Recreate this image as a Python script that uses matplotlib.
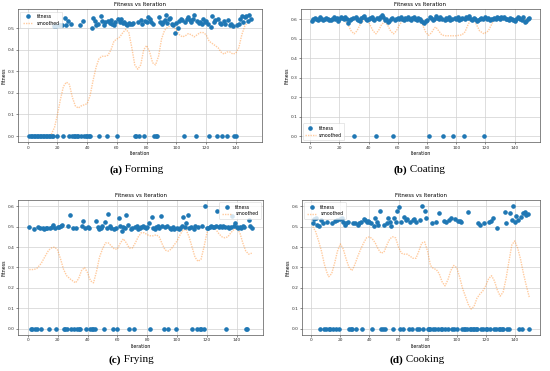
import matplotlib
matplotlib.use("Agg")
import matplotlib.pyplot as plt
import numpy as np

iterations = list(range(1, 151))

fit_a = [0, 0, 0, 0, 0, 0, 0, 0, 0, 0,
         0, 0, 0, 0, 0, 0, 0, .512, .512, 0,
         .515, .515, .515, 0, .546, .515, .534, 0, .52, 0,
         0, 0, 0, 0, .515, 0, .534, 0, 0, 0,
         0, 0, .503, .549, .534, .515, .52, 0, .558, .534,
         .515, .53, 0, .534, .523, .538, .52, .515, .53, 0,
         .543, .53, .545, .525, .53, .52, .515, .525, .52, .518,
         .523, 0, 0, .53, 0, .54, .52, 0, .535, .53,
         .55, .545, .53, .52, 0, 0, 0, .55, .528, .52,
         .53, .54, .56, .525, .545, .548, .52, .515, .48, .525,
         .50, .535, .545, .54, 0, .53, .545, .55, .54, .53,
         .545, .56, 0, .535, .525, .53, .52, .545, .53, .535,
         .52, 0, .505, .555, .53, .54, 0, .545, .525, .52,
         0, .535, .52, 0, .54, .515, .52, .51, 0, 0,
         .515, .52, .545, .555, .53, .55, .555, .535, .56, .545]

fit_b = [.59, .60, .605, .60, .598, .60, .61, .60, .595, .60,
         .605, .60, .598, .595, .60, .61, .60, .605, .59, .60,
         .61, .605, .60, .61, .60, .58, .595, .60, .605, 0,
         .61, .60, .595, .59, .605, .61, .615, .60, .595, .60,
         .605, .61, .60, .595, 0, .605, .60, .61, .62, .61,
         .595, .60, .585, .59, .60, .605, 0, .595, .60, .605,
         .60, .61, .60, .595, .605, .60, .61, .60, .595, .605,
         .61, .60, .595, .605, .60, .59, .585, .58, .59, .595,
         0, .61, .605, .595, .60, .615, .605, .60, .61, .60,
         0, .595, .605, .60, .61, .595, .60, 0, .605, .60,
         .61, .595, .60, .605, 0, .60, .61, .605, .615, .60,
         .595, .605, .60, .59, .595, .60, .605, .60, 0, .61,
         .60, .605, .595, .60, .60, .605, .60, .61, .605, .60,
         .61, .605, .61, .60, .60, .595, .605, .60, .595, .59,
         .60, .61, .605, .60, .595, .61, .585, .59, .60, .605]

fit_c = [.50, 0, 0, .49, 0, 0, .50, .495, 0, .495,
         .49, .495, .495, 0, .495, .50, .51, .495, 0, .50,
         .50, .505, .51, 0, 0, 0, .505, .555, 0, .495,
         0, .495, 0, 0, 0, .505, .525, .495, 0, .50,
         .495, 0, 0, 0, 0, .525, .50, .49, .495, .505,
         0, .52, .495, .56, .505, .495, 0, .49, .495, 0,
         .54, .505, .48, .50, .495, .555, .51, 0, .49, .495,
         0, .50, .505, .49, .495, .50, .505, .50, .495, .50,
         .515, 0, .548, .495, .49, .50, .505, .495, .553, .505,
         0, .50, .505, 0, .495, .49, .50, .49, 0, .495,
         .49, .495, .505, .548, .50, .515, .555, .495, .50, 0,
         .49, .505, 0, .50, 0, 0, .505, 0, .60, .495,
         .495, .50, .505, .50, .50, .505, .575, .50, .505, .50,
         .505, .50, 0, .50, .495, .50, .553, .505, .515, .50,
         .495, .50, .495, .505, .50, 0, 0, .53, .505, .495]

fit_d = [.515, .535, .54, .51, .505, 0, .53, .515, 0, 0,
         .52, 0, 0, .515, 0, .525, 0, .53, 0, .535,
         .54, .52, .51, .515, .52, 0, 0, 0, .515, .515,
         0, .51, .515, .52, 0, .535, .53, .52, .525, .52,
         .515, 0, .505, .54, .52, .51, .575, 0, 0, .51,
         0, .515, .54, .52, .505, 0, .54, .52, .575, .595,
         0, .52, 0, .545, .53, .535, 0, .52, 0, .53,
         .535, .52, 0, 0, .53, .60, 0, .575, .54, 0,
         0, 0, .515, 0, 0, .52, 0, .565, 0, 0,
         .525, 0, .52, 0, .53, .54, 0, 0, .535, 0,
         .525, .525, .52, 0, 0, 0, 0, .57, 0, 0,
         0, 0, 0, 0, .515, .51, 0, 0, .515, 0,
         0, .52, 0, .525, .54, 0, 0, .495, 0, 0,
         0, 0, .57, .515, 0, 0, .565, .53, .60, .52,
         .55, .53, 0, .545, 0, .565, .57, .555, .56, 0]

sm_a_x = [1, 5, 10, 14, 16, 18, 20, 22, 24, 26, 28, 30, 32, 34, 36, 38, 40, 42, 44, 46,
          48, 50, 52, 54, 56, 58, 60, 62, 64, 66, 68, 70, 72, 74, 76, 78, 80, 82, 84, 86,
          88, 90, 92, 94, 96, 98, 100, 102, 104, 106, 108, 110, 112, 114, 116, 118, 120,
          122, 124, 126, 128, 130, 132, 134, 136, 138, 140, 142, 144, 146, 148, 150]
sm_a_y = [0, 0, 0, 0, 0.01, 0.04, 0.10, 0.17, 0.23, 0.25, 0.24, 0.18, 0.14, 0.13, 0.14,
          0.145, 0.15, 0.19, 0.26, 0.32, 0.36, 0.37, 0.37, 0.375, 0.40, 0.44, 0.45, 0.46,
          0.48, 0.495, 0.48, 0.41, 0.33, 0.31, 0.33, 0.40, 0.42, 0.39, 0.34, 0.33, 0.37,
          0.45, 0.49, 0.505, 0.51, 0.51, 0.49, 0.47, 0.46, 0.465, 0.475, 0.47, 0.46, 0.47,
          0.48, 0.48, 0.47, 0.44, 0.43, 0.42, 0.41, 0.39, 0.38, 0.39, 0.39, 0.38, 0.385,
          0.41, 0.47, 0.51, 0.53, 0.54]

sm_b_x = [1, 23, 26, 28, 30, 32, 34, 37, 39, 41, 43, 45, 47, 49, 51, 53, 55, 57, 59, 61,
          64, 75, 77, 79, 81, 83, 85, 86, 88, 90, 92, 95, 100, 104, 106, 108, 110, 112,
          114, 116, 119, 122, 124, 126, 150]
sm_b_y = [0.6, 0.6, 0.57, 0.54, 0.525, 0.54, 0.57, 0.6, 0.6, 0.57, 0.54, 0.525, 0.545,
          0.575, 0.585, 0.57, 0.54, 0.525, 0.54, 0.57, 0.6, 0.6, 0.57, 0.535, 0.517, 0.53,
          0.555, 0.56, 0.54, 0.52, 0.515, 0.515, 0.515, 0.52, 0.535, 0.57, 0.6, 0.6, 0.57,
          0.54, 0.525, 0.54, 0.57, 0.6, 0.6]

sm_c_x = [1, 4, 6, 9, 12, 14, 16, 18, 20, 22, 24, 26, 29, 32, 34, 36, 38, 40, 42, 44, 46,
          48, 50, 52, 54, 56, 58, 60, 62, 64, 66, 68, 70, 72, 74, 76, 78, 80, 82, 84, 86,
          88, 90, 92, 94, 96, 98, 100, 102, 104, 106, 108, 110, 112, 114, 116, 118, 120,
          122, 124, 126, 128, 130, 132, 134, 136, 138, 140, 142, 144, 146, 148, 150]
sm_c_y = [.29, .29, .295, .32, .36, .385, .396, .40, .385, .34, .29, .26, .24, .225,
          .245, .285, .30, .275, .235, .225, .28, .35, .39, .42,
          .42, .405, .39, .39, .42, .44, .42, .395, .395, .42,
          .45, .47, .47, .46, .455, .455, .46, .45, .415, .385,
          .38, .39, .41, .43, .46, .485, .485, .45, .40, .35,
          .33, .34, .40, .47, .50, .495, .485, .465, .45, .445,
          .45, .47, .485, .49, .47, .42, .38, .365, .37]

sm_d_x = [1, 3, 5, 7, 9, 11, 12, 14, 16, 18, 20, 22, 24, 26, 28, 30, 32, 34, 36, 38, 40,
          42, 44, 46, 48, 50, 52, 54, 56, 58, 60, 62, 64, 66, 68, 70, 72, 74, 76, 78, 80,
          82, 84, 86, 88, 90, 92, 94, 96, 98, 100, 102, 104, 106, 108, 110, 112, 114, 116,
          118, 120, 122, 124, 126, 128, 130, 132, 134, 136, 138, 140, 142, 144, 146, 148, 150]
sm_d_y = [.50, .475, .43, .38, .315, .27, .255,
          .27, .32, .38, .415, .39, .34, .30, .285, .315, .355,
          .39, .42, .445, .45, .44, .42, .39, .37, .375, .41,
          .44, .45, .445, .40, .37, .365, .365, .355, .345, .345,
          .38, .42, .425, .38, .31, .295, .29, .27, .23, .21,
          .24, .285, .31, .30, .255, .20, .16, .12, .097, .11,
          .15, .17, .185, .21, .245, .26, .235, .19, .16, .18,
          .245, .33, .41, .43, .395, .34, .27, .21, .155]

panels = [
    ("a", "Forming", fit_a, sm_a_x, sm_a_y, "upper left", [0.033, 0.617, 0.443, 0.358], 122, 170),
    ("b", "Coating", fit_b, sm_b_x, sm_b_y, "lower left", [0.547, 0.617, 0.435, 0.358], 407, 170),
    ("c", "Frying", fit_c, sm_c_x, sm_c_y, "upper right", [0.033, 0.097, 0.445, 0.364], 121, 360),
    ("d", "Cooking", fit_d, sm_d_x, sm_d_y, "upper left", [0.549, 0.097, 0.433, 0.364], 403, 360),
]

W, H = 550, 371
fig = plt.figure(figsize=(5.5, 3.71), dpi=100)
fig.patch.set_facecolor("white")

for letter, name, fit, sx, sy, loc, pos, capx, capy in panels:
    ax = fig.add_axes(pos)
    ax.plot(iterations, fit, "o", ms=2.3, color="#1f77b4", label="fitness", zorder=3)
    ax.plot(sx, sy, linestyle=(0, (1, 0.8)), color="#ff7f0e", alpha=0.4, lw=1.0,
            label="smoothed", zorder=2)
    ax.set_xticks([0, 20, 40, 60, 80, 100, 120, 140])
    top = 0.6 if max(fit) > 0.575 else 0.5
    ax.set_yticks(np.round(np.arange(0, top + 0.001, 0.1), 1))
    ax.yaxis.set_major_formatter(matplotlib.ticker.FormatStrFormatter("%.1f"))
    ax.grid(True, color="#d0d0d0", lw=0.5)
    ax.set_axisbelow(True)
    ax.tick_params(labelsize=3.2, length=1.5, width=0.4, pad=1.0, colors="#333333")
    for s in ax.spines.values():
        s.set_linewidth(0.5)
        s.set_color("#555555")
    ax.set_title("Fitness vs Iteration", fontsize=4.0, pad=2.2)
    ax.set_xlabel("Iteration", fontsize=3.4, labelpad=1)
    ax.set_ylabel("Fitness", fontsize=3.4, labelpad=0.8)
    leg = ax.legend(loc=loc, fontsize=3.3, handlelength=2.2, borderpad=0.5,
                    labelspacing=0.4, framealpha=0.8, edgecolor="#cccccc")
    leg.get_frame().set_linewidth(0.4)
    fig.text(capx / W, 1 - capy / H, "(" + letter + ")", fontsize=8, fontweight="bold",
             family="Liberation Serif", ha="right", va="center")
    fig.text(capx / W, 1 - capy / H, " " + name, fontsize=8,
             family="Liberation Serif", ha="left", va="center")

fig.savefig("out.png", dpi=100, facecolor="white")
